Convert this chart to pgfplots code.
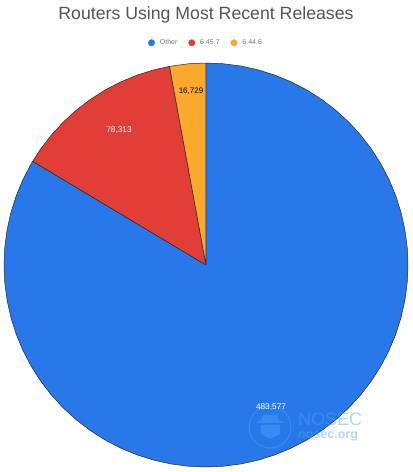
\documentclass[border=0pt]{standalone}
\usepackage{pgfplots}
\pgfplotsset{compat=1.18}
\usepackage{fontspec}
\setmainfont{Liberation Sans}
\definecolor{sliceblue}{HTML}{2878EA}
\definecolor{slicered}{HTML}{E03E36}
\definecolor{sliceorange}{HTML}{FBA92C}
\definecolor{titlegray}{HTML}{555555}
\definecolor{legendgray}{HTML}{757575}
\definecolor{markblue}{HTML}{4AA3FF}
\begin{document}
\begin{tikzpicture}[x=1pt,y=1pt]
	\path[use as bounding box] (0,0) rectangle (413,472);
	\begin{axis}[
		at={(4pt,5pt)},
		anchor=south west,
		scale only axis,
		width=404pt,
		height=404pt,
		xmin=-1,xmax=1,
		ymin=-1,ymax=1,
		hide axis,
		clip=false,
		title={Routers Using Most Recent Releases},
		title style={at={(0.5,1.105)},anchor=center,yshift=0pt,text=titlegray,font=\fontsize{17.7}{21}\selectfont},
		legend style={at={(0.5,1.05)},anchor=center,draw=none,fill=none,legend columns=-1,
			font=\fontsize{7}{8}\selectfont,text=legendgray,
			/tikz/every even column/.style={column sep=9pt},
			/tikz/every odd column/.style={column sep=3pt}},
		legend image code/.code={\fill[#1] (0pt,0pt) circle (3.2pt);},
		]
		% 483,577 / 78,313 / 16,729 of 578,619 -> clockwise from the top
		\addplot[data cs=polar,draw=black!85,fill=sliceblue,line width=0.5pt,line join=round,forget plot] coordinates {
			(0,0) (90,1) (85,1) (80,1) (75,1) (70,1) (65,1) (60,1) (55,1) (50,1) (45,1) (40,1) (35,1)
			(30,1) (25,1) (20,1) (15,1) (10,1) (5,1) (0,1) (-5,1) (-10,1) (-15,1) (-20,1) (-25,1)
			(-30,1) (-35,1) (-40,1) (-45,1) (-50,1) (-55,1) (-60,1) (-65,1) (-70,1) (-75,1) (-80,1)
			(-85,1) (-90,1) (-95,1) (-100,1) (-105,1) (-110,1) (-115,1) (-120,1) (-125,1) (-130,1)
			(-135,1) (-140,1) (-145,1) (-150,1) (-155,1) (-160,1) (-165,1) (-170,1) (-175,1) (-180,1)
			(-185,1) (-190,1) (-195,1) (-200,1) (-205,1) (-210,1) (-210.87,1) (0,0)
		};
		\addplot[data cs=polar,draw=black!85,fill=slicered,line width=0.5pt,line join=round,forget plot] coordinates {
			(0,0) (149.13,1) (145,1) (140,1) (135,1) (130,1) (125,1) (120,1) (115,1) (110,1) (105,1) (100.41,1) (0,0)
		};
		\addplot[data cs=polar,draw=black!85,fill=sliceorange,line width=0.5pt,line join=round,forget plot] coordinates {
			(0,0) (100.41,1) (95,1) (90,1) (0,0)
		};
		\addlegendimage{sliceblue}
		\addlegendentry{Other}
		\addlegendimage{slicered}
		\addlegendentry{6.45.7}
		\addlegendimage{sliceorange}
		\addlegendentry{6.44.6}
	\end{axis}
	% watermark
	\begin{scope}[opacity=0.45]
		\draw[markblue,line width=1.2] (270,45) circle (21);
		\fill[markblue] (256,49) -- (285,49) -- (282,51) -- (259,51) -- cycle;
		\fill[markblue] (261,51) -- (263,57) -- (277,57) -- (279,51) -- cycle;
		\fill[markblue] (261,47) -- (280,47) -- (280,38) -- (270.5,33) -- (261,38) -- cycle;
		\node[markblue,anchor=base west,inner sep=0pt,font=\fontsize{18}{20}\selectfont] at (298,46) {NOSEC};
		\node[markblue,anchor=base west,inner sep=0pt,font=\bfseries\fontsize{12.5}{13}\selectfont] at (298,33) {nosec.org};
	\end{scope}
	% slice labels
	\node[white,font=\fontsize{8.3}{9}\selectfont] at (119,342) {78,313};
	\node[black,font=\fontsize{8}{9}\selectfont] at (191,381) {16,729};
	\node[white,font=\fontsize{8.3}{9}\selectfont] at (271,65) {483,577};
\end{tikzpicture}
\end{document}
